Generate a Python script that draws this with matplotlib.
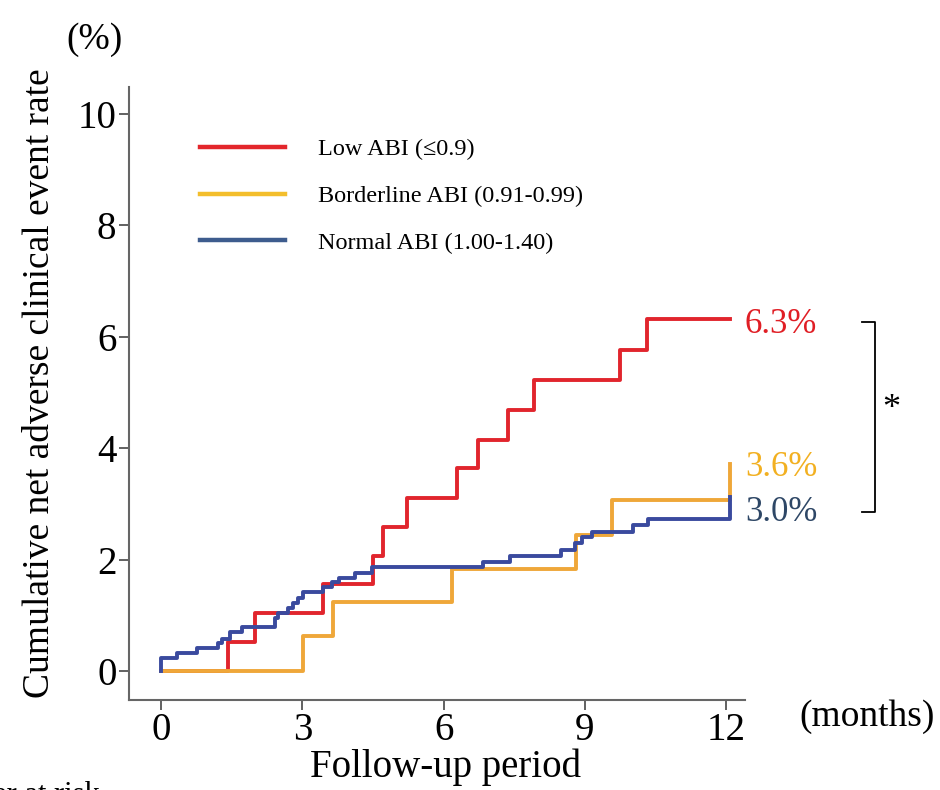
import matplotlib
matplotlib.use("Agg")
import matplotlib.pyplot as plt
from matplotlib.lines import Line2D

plt.rcParams['font.family'] = ['Liberation Serif', 'DejaVu Serif']

# ---- data (months, cumulative event rate %) ----
low_t = [0, 1.43, 2.00, 3.44, 4.50, 4.71, 5.22, 6.28, 6.73, 7.37, 7.92, 9.75, 10.32, 12.08]
low_v = [0, 0.52, 1.04, 1.56, 2.07, 2.59, 3.10, 3.64, 4.15, 4.69, 5.22, 5.76, 6.32, 6.32]

border_t = [0, 3.02, 3.66, 6.18, 8.81, 9.58, 12.08]
border_v = [0, 0.62, 1.23, 1.83, 2.44, 3.07, 3.72]

normal_t = [0, 0, 0.34, 0.76, 1.21, 1.29, 1.46, 1.71, 2.42, 2.48, 2.70, 2.80, 2.90, 3.02,
            3.44, 3.63, 3.78, 4.12, 4.48, 6.84, 7.41, 8.50, 8.80, 8.93, 9.15, 10.02, 10.34, 12.08]
normal_v = [0, 0.23, 0.32, 0.41, 0.50, 0.57, 0.70, 0.79, 0.95, 1.04, 1.13, 1.22, 1.31, 1.42,
            1.51, 1.60, 1.67, 1.76, 1.87, 1.96, 2.06, 2.17, 2.30, 2.41, 2.50, 2.62, 2.72, 3.12]

labels = ['Low ABI (≤0.9)', 'Borderline ABI (0.91-0.99)', 'Normal ABI (1.00-1.40)']
end_labels = ['6.3%', '3.6%', '3.0%']
xticks = [0, 3, 6, 9, 12]
yticks = [0, 2, 4, 6, 8, 10]

red = '#E1252D'
yellow = '#EFA739'
blue = '#3A4A9E'
leg_colors = ['#E3262B', '#F3BE2C', '#3E5C8E']
txt_colors = ['#E01E25', '#F2B021', '#2E4766']

W, H = 940, 790
fig = plt.figure(figsize=(W / 100, H / 100), dpi=100)
ax = fig.add_axes([129 / W, 1 - 700 / H, (745 - 129) / W, (700 - 87) / H])

ax.step(low_t, low_v, where='post', color=red, lw=2.8, zorder=3)
ax.step(border_t, border_v, where='post', color=yellow, lw=2.8, zorder=4)
ax.step(normal_t, normal_v, where='post', color=blue, lw=2.8, zorder=5)

ax.set_xlim(-0.68, 12.4)
ax.set_ylim(-0.52, 10.48)
ax.set_xticks(xticks)
ax.set_yticks(yticks)
ax.tick_params(axis='both', direction='out', length=7, width=1.3, colors='#555555',
               labelsize=28, labelcolor='black', pad=2)
for s in ['top', 'right']:
    ax.spines[s].set_visible(False)
for s in ['left', 'bottom']:
    ax.spines[s].set_color('#666666')
    ax.spines[s].set_linewidth(1.5)

handles = [Line2D([], [], color=c, lw=3.2) for c in leg_colors]
leg = ax.legend(handles, labels, loc='upper left', bbox_to_anchor=(0.08, 0.952),
                frameon=False, fontsize=17.5, handlelength=3.5, handletextpad=1.35,
                labelspacing=1.02)

# end labels
ax.text(12.4, 6.22, end_labels[0], color=txt_colors[0], fontsize=25,
        va='center', ha='left', clip_on=False)
ax.text(12.4, 3.66, end_labels[1], color=txt_colors[1], fontsize=25,
        va='center', ha='left', clip_on=False)
ax.text(12.4, 2.84, end_labels[2], color=txt_colors[2], fontsize=25,
        va='center', ha='left', clip_on=False)

# significance bracket
ax.plot([14.89, 15.17, 15.17, 14.89], [6.27, 6.27, 2.85, 2.85], color='black',
        lw=1.3, clip_on=False)
ax.text(15.5, 4.69, '*', fontsize=26, ha='center', va='center', clip_on=False)

fig.text(40 / W, 1 - 383 / H, 'Cumulative net adverse clinical event rate',
         rotation=90, fontsize=27, ha='center', va='center')
fig.text(95 / W, 1 - 40 / H, '(%)', fontsize=27, ha='center', va='center')
fig.text(445 / W, 1 - 767 / H, 'Follow-up period', fontsize=28, ha='center', va='center')
fig.text(867 / W, 1 - 717 / H, '(months)', fontsize=27, ha='center', va='center')
fig.text(100 / W, 1 - 781 / H, 'Number at risk', fontsize=22, ha='right', va='top')

fig.savefig('out.png', dpi=100)
